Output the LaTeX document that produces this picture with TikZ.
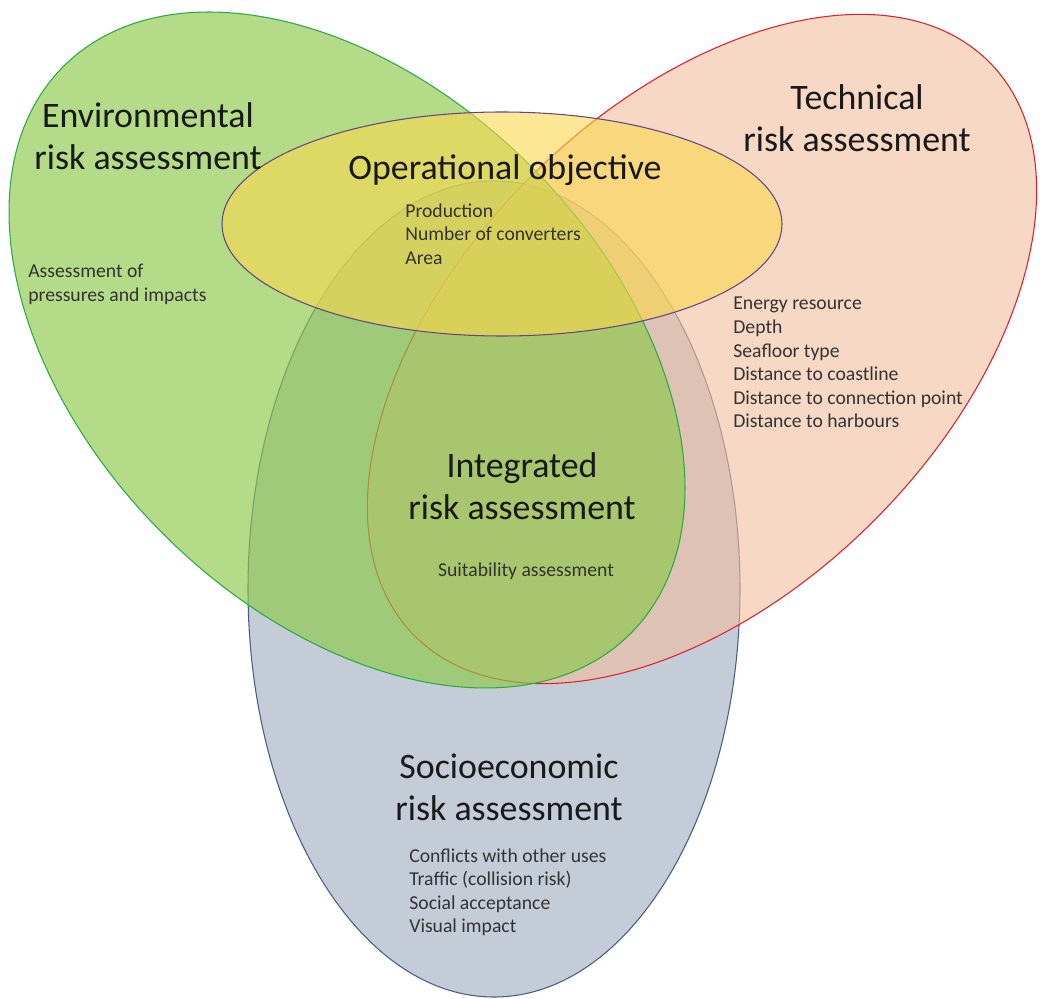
\documentclass[tikz,border=0pt]{standalone}
\usepackage{fontspec}
\setmainfont{Carlito}
\usepackage{tikz}
\usetikzlibrary{positioning}

\definecolor{envfill}{RGB}{140,201,71}
\definecolor{envline}{RGB}{40,170,70}
\definecolor{techfill}{RGB}{240,190,157}
\definecolor{techline}{RGB}{225,30,45}
\definecolor{socfill}{RGB}{196,204,216}
\definecolor{socline}{RGB}{70,95,130}
\definecolor{opfill}{RGB}{250,215,78}
\definecolor{opline}{RGB}{100,70,130}

\tikzset{
  zone/.style={line width=0.6pt},
  title/.style={align=center, inner sep=0pt, text=black!90,
    font=\fontsize{20.4}{23.9}\selectfont},
  items/.style={align=left, inner sep=0pt, text=black!80,
    font=\fontsize{11.2}{13.4}\selectfont}
}

\begin{document}
\begin{tikzpicture}[x=0.2mm,y=-0.2mm]
    \fill[white] (0,0) rectangle (1040,999);
    \useasboundingbox (0,0) rectangle (1040,999);
    \draw[zone,draw=socline,fill=socfill] (494,589) ellipse [x radius=246, y radius=408];
    \draw[zone,draw=techline,fill=techfill,fill opacity=0.6,rotate around={45:(702,349)}]
      (702,349) ellipse [x radius=406, y radius=243];
    \draw[zone,draw=envline,fill=envfill,fill opacity=0.65,rotate around={-45:(347,350)}]
      (347,350) ellipse [x radius=401, y radius=260];
    \draw[zone,draw=opline,fill=opfill,fill opacity=0.6] (502,224) ellipse [x radius=280, y radius=112];
    \node[title] (env) at (148,136) {Environmental\\risk assessment};
    \node[title] (tech) at (857,118) {Technical\\risk assessment};
    \node[title,anchor=base] (op) at (505,180) {Operational objective};
    \node[items,anchor=north west] (oplist) at (405,203) {Production\\Number of converters\\Area};
    \node[items,anchor=north west] (envlist) at (28,264) {Assessment of\\pressures and impacts};
    \node[items,anchor=north west] (techlist) at (733,297) {Energy resource\\Depth\\Seafloor type\\Distance to coastline\\Distance to connection point\\Distance to harbours};
    \node[title] (integ) at (522,486) {Integrated\\risk assessment};
    \node[items,anchor=base] (suit) at (526,577) {Suitability assessment};
    \node[title] (socio) at (509,787) {Socioeconomic\\risk assessment};
    \node[items,anchor=north west] (soclist) at (409,848) {Conflicts with other uses\\Traffic (collision risk)\\Social acceptance\\Visual impact};
  \end{tikzpicture}
\end{document}
